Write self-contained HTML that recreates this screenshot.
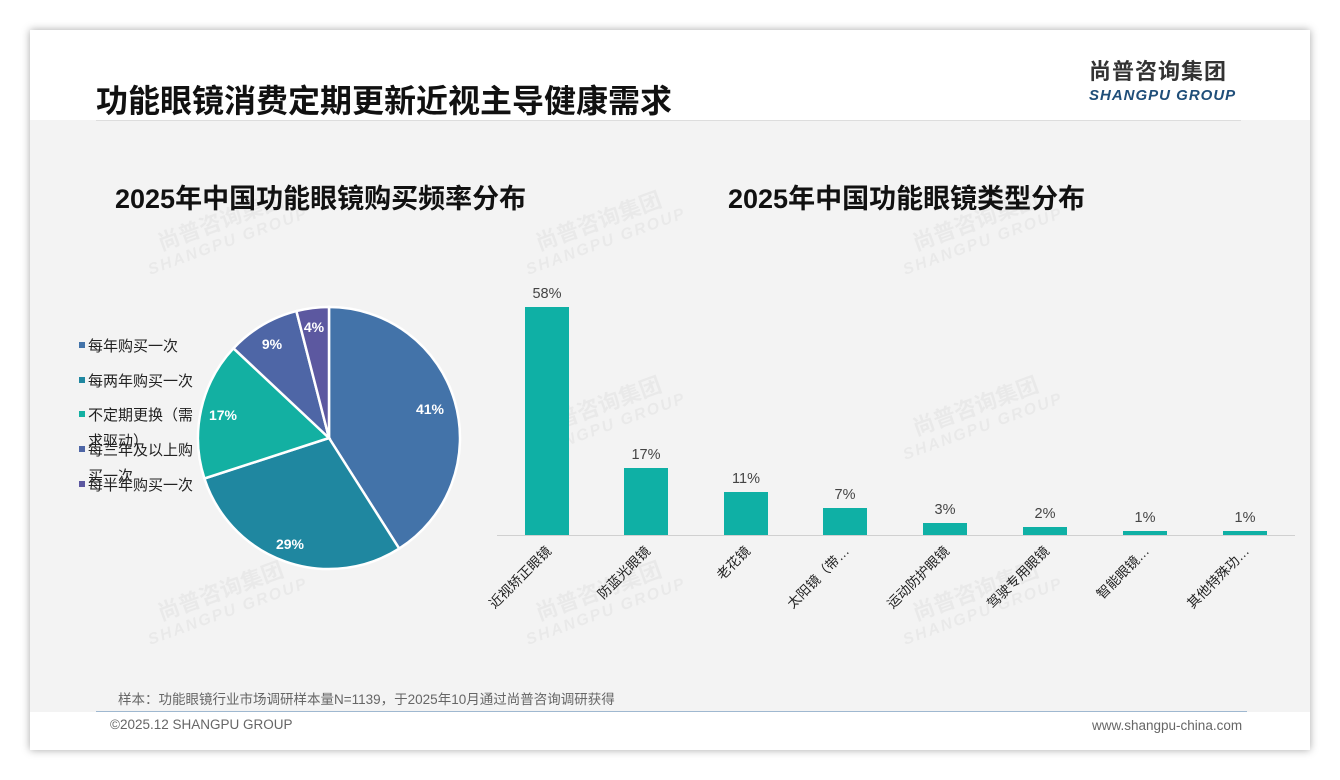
<!DOCTYPE html>
<html><head><meta charset="utf-8"><style>
body{margin:0;width:1340px;height:780px;background:#fff;font-family:"Liberation Sans","Noto Sans CJK SC",sans-serif;position:relative;overflow:hidden}
.card{position:absolute;left:30px;top:30px;width:1280px;height:720px;background:#fff;box-shadow:0 0 8px rgba(0,0,0,.35)}
.content{position:absolute;left:30px;top:120px;width:1280px;height:592px;background:#f3f3f3}
.t{position:absolute;white-space:nowrap}
.wm{position:absolute;color:rgba(0,0,0,.04);font-weight:bold;transform:rotate(-20deg);font-size:22px;line-height:22px;text-align:center}
.wm i{display:block;font-size:16px;letter-spacing:2px}
</style></head><body>
<div class="card"></div>
<div class="content"></div>
<div class="t" style="left:96px;top:76px;font-size:32px;font-weight:bold;color:#111">功能眼镜消费定期更新近视主导健康需求</div>
<div style="position:absolute;left:96px;top:120px;width:1145px;height:1px;background:#ddd"></div>
<div class="t" style="left:1089px;top:58px;font-size:22px;line-height:28px;font-weight:bold;color:#333;letter-spacing:1px">尚普咨询集团</div>
<div class="t" style="left:1089px;top:87px;font-size:15px;font-weight:bold;font-style:italic;color:#1f4e79;letter-spacing:1px">SHANGPU GROUP</div>
<div class="t" style="left:115px;top:177px;font-size:27px;font-weight:bold;color:#111">2025年中国功能眼镜购买频率分布</div>
<div class="t" style="left:728px;top:177px;font-size:27px;font-weight:bold;color:#111">2025年中国功能眼镜类型分布</div>
<div class="wm" style="left:140px;top:210px">尚普咨询集团<i>SHANGPU GROUP</i></div>
<div class="wm" style="left:518px;top:210px">尚普咨询集团<i>SHANGPU GROUP</i></div>
<div class="wm" style="left:895px;top:210px">尚普咨询集团<i>SHANGPU GROUP</i></div>
<div class="wm" style="left:518px;top:395px">尚普咨询集团<i>SHANGPU GROUP</i></div>
<div class="wm" style="left:895px;top:395px">尚普咨询集团<i>SHANGPU GROUP</i></div>
<div class="wm" style="left:140px;top:580px">尚普咨询集团<i>SHANGPU GROUP</i></div>
<div class="wm" style="left:518px;top:580px">尚普咨询集团<i>SHANGPU GROUP</i></div>
<div class="wm" style="left:895px;top:580px">尚普咨询集团<i>SHANGPU GROUP</i></div>
<svg style="position:absolute;left:0;top:0" width="1340" height="780" font-family="Liberation Sans,Noto Sans CJK SC,sans-serif">
<g stroke="#fff" stroke-width="2.5">
<path d="M329 438 L329 307 A131 131 0 0 1 399.2 548.6Z" fill="#4373a9"/>
<path d="M329 438 L399.2 548.6 A131 131 0 0 1 204.4 478.5Z" fill="#1f87a0"/>
<path d="M329 438 L204.4 478.5 A131 131 0 0 1 233.5 348.3Z" fill="#13b0a2"/>
<path d="M329 438 L233.5 348.3 A131 131 0 0 1 296.4 311.1Z" fill="#4e66a6"/>
<path d="M329 438 L296.4 311.1 A131 131 0 0 1 329 307Z" fill="#5c58a0"/>
</g>
<g fill="#fff" font-weight="bold" font-size="14" text-anchor="middle">
<text x="430" y="414">41%</text><text x="290" y="549">29%</text><text x="223" y="420">17%</text><text x="272" y="349">9%</text><text x="314" y="332">4%</text>
</g>
<g font-size="15" fill="#222">
<rect x="79" y="342" width="6" height="6" fill="#4373a9"/><text x="88" y="351">每年购买一次</text>
<rect x="79" y="377" width="6" height="6" fill="#1f87a0"/><text x="88" y="386">每两年购买一次</text>
<rect x="79" y="411" width="6" height="6" fill="#13b0a2"/><text x="88" y="420">不定期更换（需</text>
<text x="88" y="446">求驱动）</text>
<rect x="79" y="446" width="6" height="6" fill="#4e66a6"/><text x="88" y="455">每三年及以上购</text>
<text x="88" y="481">买一次</text>
<rect x="79" y="481" width="6" height="6" fill="#5c58a0"/><text x="88" y="490">每半年购买一次</text>
</g>
<line x1="497" y1="535.5" x2="1295" y2="535.5" stroke="#d0d0d0"/>
<g fill="#0fb0a5">
<rect x="525" y="307" width="44" height="228"/><rect x="624" y="468" width="44" height="67"/>
<rect x="724" y="492" width="44" height="43"/><rect x="823" y="508" width="44" height="27"/>
<rect x="923" y="523" width="44" height="12"/><rect x="1023" y="527" width="44" height="8"/>
<rect x="1123" y="531" width="44" height="4"/><rect x="1223" y="531" width="44" height="4"/>
</g>
<g font-size="14.5" fill="#444" text-anchor="middle">
<text x="547" y="298">58%</text><text x="646" y="459">17%</text><text x="746" y="483">11%</text><text x="845" y="499">7%</text>
<text x="945" y="514">3%</text><text x="1045" y="518">2%</text><text x="1145" y="522">1%</text><text x="1245" y="522">1%</text>
</g>
<g font-size="13.5" fill="#222" text-anchor="end">
<text transform="translate(552,552) rotate(-45)">近视矫正眼镜</text>
<text transform="translate(651,552) rotate(-45)">防蓝光眼镜</text>
<text transform="translate(751,552) rotate(-45)">老花镜</text>
<text transform="translate(850,552) rotate(-45)">太阳镜（带…</text>
<text transform="translate(950,552) rotate(-45)">运动防护眼镜</text>
<text transform="translate(1050,552) rotate(-45)">驾驶专用眼镜</text>
<text transform="translate(1150,552) rotate(-45)">智能眼镜…</text>
<text transform="translate(1250,552) rotate(-45)">其他特殊功…</text>
</g>
</svg>
<div class="t" style="left:118px;top:688px;font-size:13.5px;color:#666">样本：功能眼镜行业市场调研样本量N=1139，于2025年10月通过尚普咨询调研获得</div>
<div style="position:absolute;left:96px;top:711px;width:1151px;height:1px;background:#9fb8d0"></div>
<div class="t" style="left:110px;top:717px;font-size:13.5px;color:#666">©2025.12 SHANGPU GROUP</div>
<div class="t" style="left:1092px;top:718px;font-size:13.5px;color:#666">www.shangpu-china.com</div>
</body></html>
